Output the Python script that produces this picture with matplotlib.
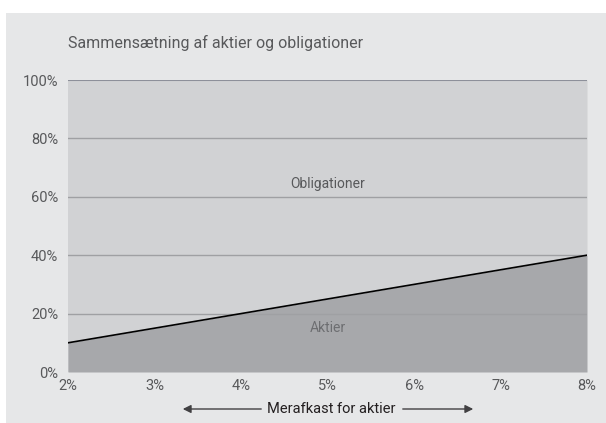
import numpy as np
import matplotlib.pyplot as plt
from matplotlib.ticker import FuncFormatter

# data
merafkast = [2, 3, 4, 5, 6, 7, 8]            # % excess return for equities
aktier_andel = [10, 15, 20, 25, 30, 35, 40]  # % equities in portfolio
y_ticks = [0, 20, 40, 60, 80, 100]

plt.rcParams['font.family'] = ['Roboto', 'DejaVu Sans']

bg = '#e6e7e8'
upper_col = '#d1d2d4'
lower_col = '#a7a8ab'
txt_col = '#58595b'

fig = plt.figure(figsize=(6.06, 4.23), dpi=100, facecolor='white')
# grey panel behind everything
fig.patches.append(plt.Rectangle((6 / 606, 0), 1, 1 - 13 / 423, transform=fig.transFigure,
                                 facecolor=bg, edgecolor='none', zorder=-10))

ax = fig.add_axes([68 / 606, 1 - 372 / 423, (587 - 68) / 606, (372 - 80) / 423])
ax.set_facecolor(upper_col)
ax.set_xlim(2, 8)
ax.set_ylim(0, 100)

ax.fill_between(merafkast, 0, aktier_andel, color=lower_col, lw=0, zorder=1)
ax.fill_between(merafkast, aktier_andel, 100, color=upper_col, lw=0, zorder=1)
ax.plot(merafkast, aktier_andel, color='black', lw=1.2, zorder=4)

for yv in y_ticks[1:-1]:
    ax.axhline(yv, color='#9fa0a3', lw=1, zorder=2)
ax.axhline(100, color='#8d909a', lw=1.5, zorder=2)

for s in ax.spines.values():
    s.set_visible(False)

ax.set_xticks(merafkast)
ax.set_yticks(y_ticks)
ax.xaxis.set_major_formatter(FuncFormatter(lambda v, p: f'{v:.0f}%'))
ax.yaxis.set_major_formatter(FuncFormatter(lambda v, p: f'{v:.0f}%'))
ax.tick_params(length=0, labelsize=10.5, colors=txt_col, pad=7)
ax.tick_params(axis='x', pad=5)

ax.text(5, 64.5, 'Obligationer', ha='center', va='center', fontsize=10, color=txt_col, zorder=5)
ax.text(5, 15, 'Aktier', ha='center', va='center', fontsize=10, color='#6d6e71', zorder=5)

fig.text(68 / 606, 1 - 43 / 423, 'Sammensætning af aktier og obligationer',
         ha='left', va='center', fontsize=11.5, color=txt_col)

# x-axis label with arrows
fig.text(331 / 606, 1 - 409 / 423, 'Merafkast for aktier', ha='center', va='center',
         fontsize=10.5, color='#231f20')
arrow_kw = dict(arrowstyle='-|>', color='#414042', lw=1, mutation_scale=12)
ax.annotate('', xy=(180 / 606, 1 - 409 / 423), xytext=(264 / 606, 1 - 409 / 423),
            xycoords='figure fraction', textcoords='figure fraction', arrowprops=arrow_kw)
ax.annotate('', xy=(476 / 606, 1 - 409 / 423), xytext=(400 / 606, 1 - 409 / 423),
            xycoords='figure fraction', textcoords='figure fraction', arrowprops=arrow_kw)

fig.savefig('out.png', dpi=100, facecolor='white')
